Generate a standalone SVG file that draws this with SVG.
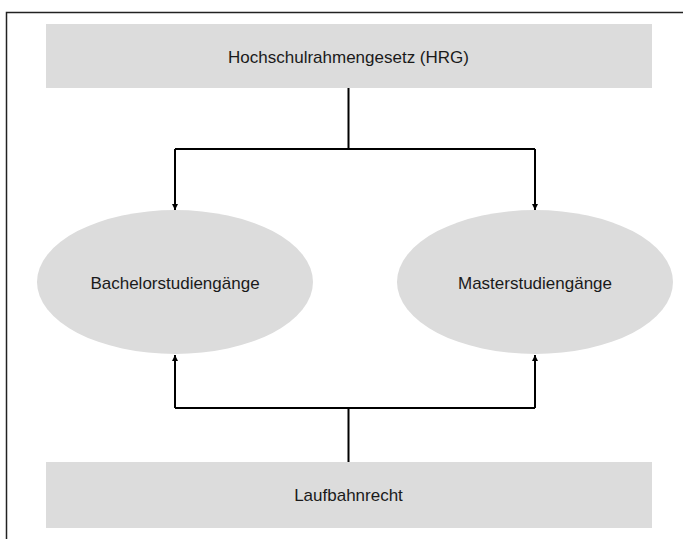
<svg xmlns="http://www.w3.org/2000/svg" width="683" height="539" viewBox="0 0 683 539">
<style>
.box{fill:#dcdcdc}
.lbl{font-family:"Liberation Sans",Arial,sans-serif;font-size:17px;fill:#1a1a1a;text-anchor:middle}
.con{fill:none;stroke:#000;stroke-width:2}
</style>
<defs>
<marker id="ah" viewBox="0 0 6 6" refX="6" refY="3" markerWidth="6" markerHeight="6" markerUnits="userSpaceOnUse" orient="auto">
<path d="M0,0 L6,3 L0,6 z" fill="#000"/>
</marker>
</defs>
<rect width="683" height="539" fill="#fff"/>
<path d="M6.5,539 V12.5 H683" fill="none" stroke="#222" stroke-width="1.5"/>
<g id="hrg">
<rect class="box" x="46" y="24" width="606" height="64"/>
<text class="lbl" x="348.5" y="63">Hochschulrahmengesetz (HRG)</text>
</g>
<g id="bachelor">
<ellipse class="box" cx="175" cy="282" rx="138" ry="72"/>
<text class="lbl" x="175" y="289">Bachelorstudiengänge</text>
</g>
<g id="master">
<ellipse class="box" cx="535" cy="282" rx="138" ry="72"/>
<text class="lbl" x="535" y="289">Masterstudiengänge</text>
</g>
<g id="laufbahn">
<rect class="box" x="46" y="462" width="606" height="66"/>
<text class="lbl" x="348.5" y="501">Laufbahnrecht</text>
</g>
<g id="connectors">
<path class="con" d="M348.5,88 V149 M175,149 H535"/>
<path class="con" d="M175,149 V210" marker-end="url(#ah)"/>
<path class="con" d="M535,149 V210" marker-end="url(#ah)"/>
<path class="con" d="M348.5,462 V408 M175,408 H535"/>
<path class="con" d="M175,408 V355" marker-end="url(#ah)"/>
<path class="con" d="M535,408 V355" marker-end="url(#ah)"/>
</g>
</svg>
